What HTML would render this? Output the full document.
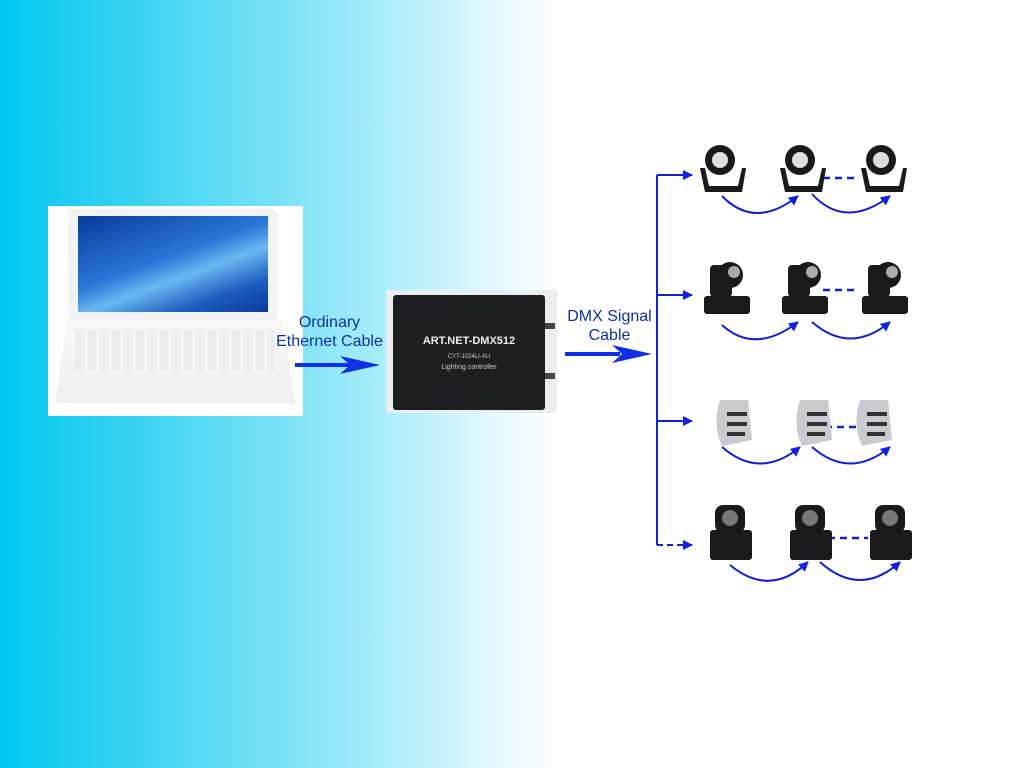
<!DOCTYPE html>
<html><head><style>
body{margin:0;width:1024px;height:768px;overflow:hidden;background:linear-gradient(to right,#00c8f0 0px,#40d4f2 150px,#a8ecfa 380px,#e6f9fe 500px,#fff 565px,#fff 1024px);font-family:"Liberation Sans",sans-serif;position:relative}
.a{position:absolute}
.lbl{color:#1030a0;font-size:16px;text-align:center;line-height:19px}
</style></head><body>
<div class="a" style="left:48px;top:206px;width:255px;height:210px;background:#fff"></div>
<div class="a" style="left:68px;top:209px;width:210px;height:112px;background:#f2f3f4;border-radius:6px"></div>
<div class="a" style="left:78px;top:216px;width:190px;height:96px;background:linear-gradient(160deg,#0a3a9a,#2a78d8 45%,#6ab8f0 60%,#1e5cc0 80%,#0a3a9a)"></div>
<div class="a" style="left:55px;top:321px;width:240px;height:82px;background:linear-gradient(#f8f8f9,#eeeff0);clip-path:polygon(5% 0,95% 0,100% 100%,0 100%)"></div>
<div class="a" style="left:75px;top:330px;width:200px;height:40px;background:repeating-linear-gradient(90deg,#ebedee 0 10px,#fafafa 10px 12px)"></div>
<div class="a" style="left:145px;top:375px;width:60px;height:20px;background:#f0f0f0"></div>
<div class="a" style="left:386px;top:290px;width:171px;height:123px;background:#e8eef2"></div>
<div class="a" style="left:393px;top:295px;width:152px;height:115px;background:#1d1e20;border-radius:3px"></div>
<div class="a" style="left:393px;top:335px;width:152px;text-align:center;color:#eee;font-size:11px;font-weight:bold">ART.NET-DMX512</div>
<div class="a" style="left:393px;top:354px;width:152px;text-align:center;color:#ccc;font-size:6px">CYT-1024LI-AU</div>
<div class="a" style="left:393px;top:364px;width:152px;text-align:center;color:#ccc;font-size:7px">Lighting controller</div>
<div class="a" style="left:545px;top:323px;width:10px;height:6px;background:#444"></div>
<div class="a" style="left:545px;top:373px;width:10px;height:6px;background:#444"></div>
<div class="a lbl" style="left:262px;top:313px;width:135px">Ordinary<br>Ethernet Cable</div>
<div class="a lbl" style="left:552px;top:307px;width:115px">DMX Signal<br>Cable</div>
<svg class="a" style="left:0;top:0" width="1024" height="768">
<defs><marker id="m" markerWidth="5" markerHeight="5" refX="4.5" refY="2.5" orient="auto"><path d="M0,0L5,2.5L0,5z" fill="#1020e0"/></marker></defs>
<path d="M295,365 L355,365" stroke="#1030e8" stroke-width="4"/><path d="M340,356 L380,365 L340,374 L350,365z" fill="#1030e8"/>
<path d="M565,354 L620,354" stroke="#1030e8" stroke-width="4"/><path d="M612,345 L652,354 L612,363 L622,354z" fill="#1030e8"/>
<g stroke="#1020d0" stroke-width="2" fill="none">
<path d="M657,175 V545"/>
<path d="M657,175 H692" marker-end="url(#m)"/>
<path d="M657,295 H692" marker-end="url(#m)"/>
<path d="M657,421 H692" marker-end="url(#m)"/>
<path d="M657,545 H692" stroke-dasharray="6,4" marker-end="url(#m)"/>
<g stroke-dasharray="7,5" stroke-width="2.5"><path d="M823,178 H858"/><path d="M823,290 H858"/><path d="M825,427 H860"/><path d="M828,538 H868"/></g>
<path d="M722,196 Q755,230 798,196" marker-end="url(#m)"/><path d="M812,194 Q845,230 890,196" marker-end="url(#m)"/>
<path d="M722,325 Q755,355 798,322" marker-end="url(#m)"/><path d="M812,322 Q850,355 890,322" marker-end="url(#m)"/>
<path d="M722,447 Q760,480 800,447" marker-end="url(#m)"/><path d="M812,447 Q850,480 890,447" marker-end="url(#m)"/>
<path d="M730,565 Q770,598 808,562" marker-end="url(#m)"/><path d="M820,562 Q860,598 900,562" marker-end="url(#m)"/>
</g>
<g fill="#1a1a1c">
<g id="p"><circle cx="720" cy="160" r="15"/><path d="M700,168 L705,192 H742 L746,168 L742,168 L738,186 H709 L705,168z"/><circle cx="720" cy="160" r="8" fill="#ddd"/></g>
<use href="#p" x="80"/><use href="#p" x="161"/>
<g id="h"><rect x="710" y="265" width="22" height="32" rx="4"/><circle cx="730" cy="275" r="13"/><rect x="704" y="296" width="46" height="18" rx="3"/><circle cx="734" cy="272" r="6" fill="#aaa"/></g>
<use href="#h" x="78"/><use href="#h" x="158"/>
<g id="d" fill="#c8ccd0"><path d="M720,400 L748,400 L752,440 L722,446 Q712,425 720,400z"/><rect x="727" y="412" width="20" height="4" fill="#333"/><rect x="727" y="422" width="20" height="4" fill="#333"/><rect x="727" y="432" width="18" height="4" fill="#333"/></g>
<use href="#d" x="80"/><use href="#d" x="140"/>
<g id="w"><rect x="715" y="505" width="30" height="28" rx="8"/><rect x="710" y="530" width="42" height="30" rx="3"/><circle cx="730" cy="518" r="8" fill="#777"/></g>
<use href="#w" x="80"/><use href="#w" x="160"/>
</g>
</svg>
</body></html>
